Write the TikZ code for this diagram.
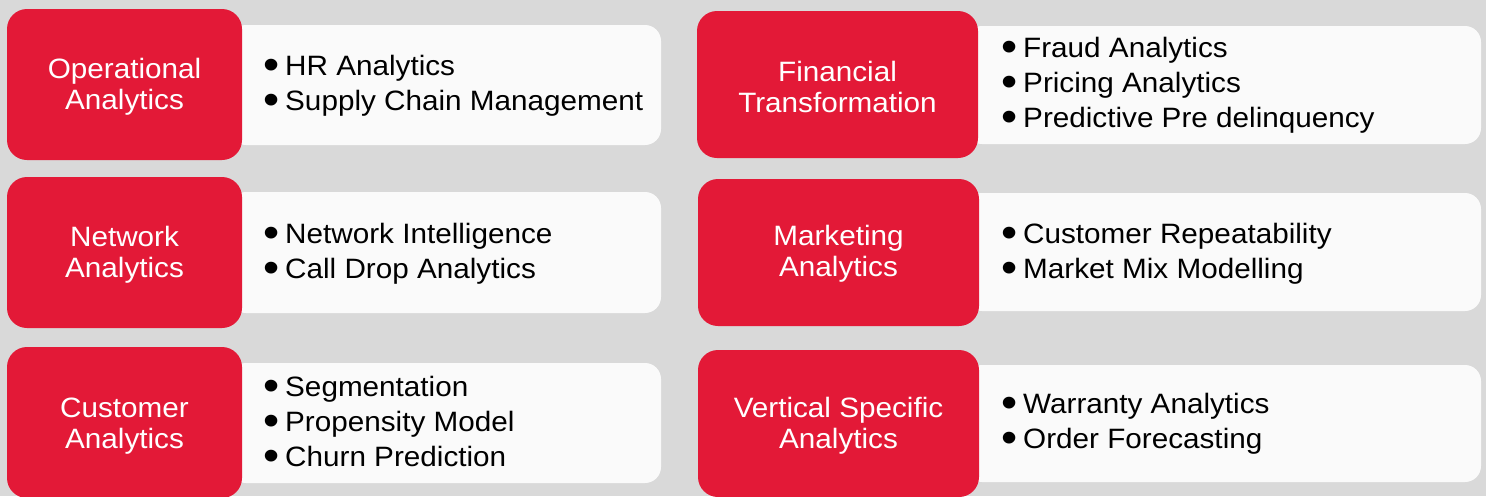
\documentclass[tikz,border=0pt]{standalone}
\usepackage{fontspec}
\setmainfont{Liberation Sans}[FakeStretch=1.06]
\definecolor{redbg}{HTML}{E31937}
\definecolor{wbg}{HTML}{FAFAFA}
\definecolor{pagebg}{HTML}{D9D9D9}
\newcommand{\bul}{\makebox[22pt][l]{\smash{\raisebox{-4pt}{\scalebox{1.55}{\textbullet}}}}}
\tikzset{
  redbox/.style={fill=redbg, rounded corners=20pt, inner sep=0pt},
  lbl/.style={inner sep=0pt, text=white, align=center,
    font=\fontsize{28}{31}\selectfont},
  whitebox/.style={fill=wbg, rounded corners=16pt, inner sep=0pt},
  item/.style={anchor=base west, inner sep=0pt, text=black,
    font=\fontsize{28}{35}\selectfont},
}
\begin{document}
\begin{tikzpicture}[x=1pt, y=-1pt]
\useasboundingbox (0,0) rectangle (1486,496);
\fill[pagebg] (0,0) rectangle (1486,496);

% white panels
\node[whitebox, minimum width=431pt, minimum height=120pt] (w1l) at (445.5,85) {};
\node[whitebox, minimum width=515pt, minimum height=118pt] (w1r) at (1223.5,85) {};
\node[whitebox, minimum width=431pt, minimum height=121pt] (w2l) at (445.5,252.5) {};
\node[whitebox, minimum width=515pt, minimum height=118pt] (w2r) at (1223.5,252) {};
\node[whitebox, minimum width=431pt, minimum height=120pt] (w3l) at (445.5,423) {};
\node[whitebox, minimum width=515pt, minimum height=117pt] (w3r) at (1223.5,423.5) {};

% red headers
\node[redbox, minimum width=235pt, minimum height=151pt] (r1l) at (124.5,84.5) {};
\node[redbox, minimum width=281pt, minimum height=147pt] (r1r) at (837.5,84.5) {};
\node[redbox, minimum width=235pt, minimum height=151pt] (r2l) at (124.5,252.5) {};
\node[redbox, minimum width=281pt, minimum height=147pt] (r2r) at (838.5,252.5) {};
\node[redbox, minimum width=235pt, minimum height=151pt] (r3l) at (124.5,422.5) {};
\node[redbox, minimum width=281pt, minimum height=147pt] (r3r) at (838.5,423.5) {};

\node[lbl] (l1l) at ([yshift=-2pt]r1l.center) {Operational\\Analytics};
\node[lbl] (l1r) at ([yshift=-2.5pt]r1r.center) {Financial\\Transformation};
\node[lbl] (l2l) at ([yshift=-2pt]r2l.center) {Network\\Analytics};
\node[lbl] (l2r) at ([yshift=-1.5pt]r2r.center) {Marketing\\Analytics};
\node[lbl] (l3l) at ([yshift=-3.5pt]r3l.center) {Customer\\Analytics};
\node[lbl] (l3r) at ([yshift=-2pt]r3r.center) {Vertical Specific\\Analytics};

% items
\node[item] (i1a) at (263,75) {\bul HR Analytics};
\node[item] (i1b) at (263,110) {\bul Supply Chain Management};
\node[item] (i2a) at (1001,57) {\bul Fraud Analytics};
\node[item] (i2b) at (1001,92) {\bul Pricing Analytics};
\node[item] (i2c) at (1001,127) {\bul Predictive Pre delinquency};
\node[item] (i3a) at (263,243) {\bul Network Intelligence};
\node[item] (i3b) at (263,278) {\bul Call Drop Analytics};
\node[item] (i4a) at (1001,243) {\bul Customer Repeatability};
\node[item] (i4b) at (1001,278) {\bul Market Mix Modelling};
\node[item] (i5a) at (263,396) {\bul Segmentation};
\node[item] (i5b) at (263,431) {\bul Propensity Model};
\node[item] (i5c) at (263,466) {\bul Churn Prediction};
\node[item] (i6a) at (1001,413) {\bul Warranty Analytics};
\node[item] (i6b) at (1001,448) {\bul Order Forecasting};
\end{tikzpicture}
\end{document}
